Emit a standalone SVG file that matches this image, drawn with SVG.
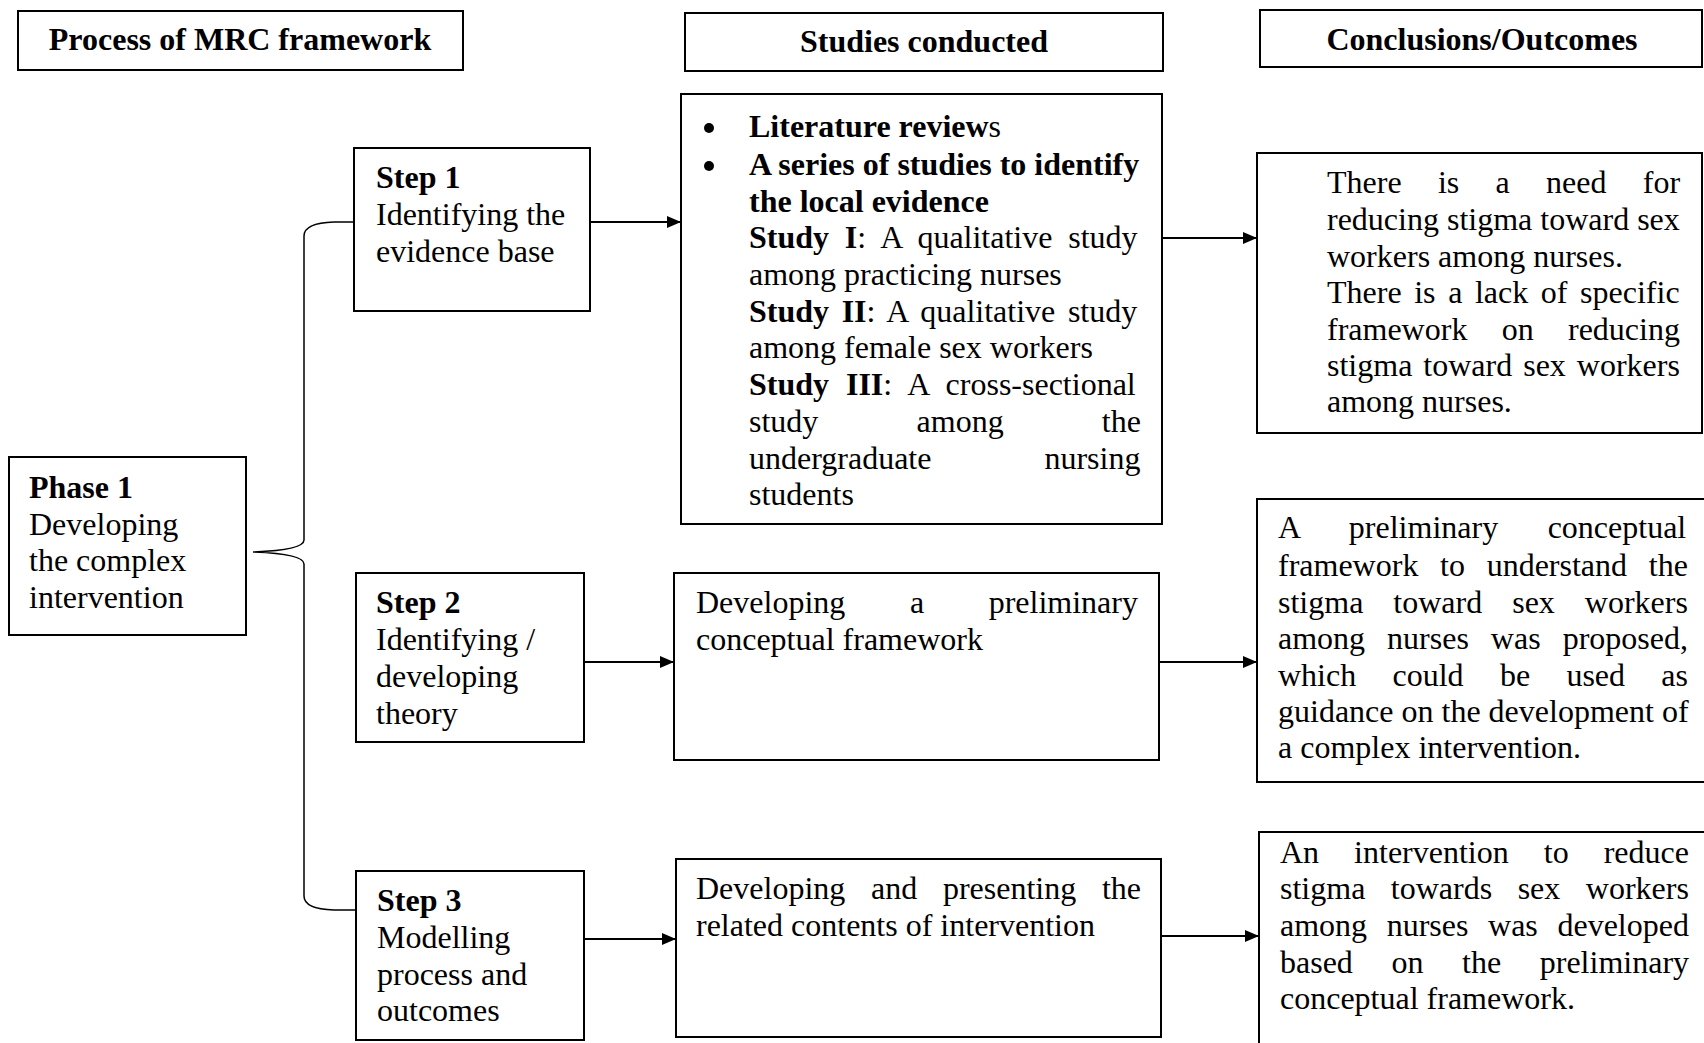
<svg xmlns="http://www.w3.org/2000/svg" width="1704" height="1043" viewBox="0 0 1704 1043">
<style>
text{font-family:"Liberation Serif","Times New Roman",serif;font-size:32px;fill:#000}
.b{font-weight:bold}
.bul{fill:#000}
.box{fill:#fff;stroke:#000;stroke-width:2}
.arr{fill:none;stroke:#000;stroke-width:2.2}
.brace{fill:none;stroke:#000;stroke-width:1.5}
.hd{text-anchor:middle;font-weight:bold}
</style>
<defs>
<marker id="ah" markerWidth="14" markerHeight="12" refX="14" refY="6" orient="auto" markerUnits="userSpaceOnUse">
<path d="M0,0 L14,6 L0,12 z" fill="#000"/>
</marker>
</defs>
<rect x="0" y="0" width="1704" height="1043" fill="#fff"/>

<g id="header-process">
<rect class="box" x="18" y="11" width="445" height="59"/>
<text class="hd" x="240" y="50">Process of MRC framework</text>
</g>
<g id="header-studies">
<rect class="box" x="685" y="13" width="478" height="58"/>
<text class="hd" x="924" y="52">Studies conducted</text>
</g>
<g id="header-outcomes">
<rect class="box" x="1260" y="10" width="442" height="57"/>
<text class="hd" x="1482" y="50">Conclusions/Outcomes</text>
</g>

<g id="connectors">
<path class="brace" d="M355,222 L334,222 Q304,223 304,236 L304,540 Q304,550 253,552 Q304,554 304,564 L304,896 Q304,909 334,910 L356,910"/>
<line class="arr" x1="590" y1="222" x2="681" y2="222" marker-end="url(#ah)"/>
<line class="arr" x1="1162" y1="238" x2="1257" y2="238" marker-end="url(#ah)"/>
<line class="arr" x1="584" y1="662" x2="674" y2="662" marker-end="url(#ah)"/>
<line class="arr" x1="1159" y1="662" x2="1257" y2="662" marker-end="url(#ah)"/>
<line class="arr" x1="584" y1="939" x2="676" y2="939" marker-end="url(#ah)"/>
<line class="arr" x1="1161" y1="936" x2="1259" y2="936" marker-end="url(#ah)"/>
</g>

<g id="phase1">
<rect class="box" x="9" y="457" width="237" height="178"/>
<text x="29" y="498" class="b">Phase 1</text>
<text x="29" y="535">Developing</text>
<text x="29" y="571">the complex</text>
<text x="29" y="608">intervention</text>
</g>

<g id="step1">
<rect class="box" x="354" y="148" width="236" height="163"/>
<text x="376" y="188" class="b">Step 1</text>
<text x="376" y="225">Identifying the</text>
<text x="376" y="262">evidence base</text>
</g>

<g id="step2">
<rect class="box" x="356" y="573" width="228" height="169"/>
<text x="376" y="613" class="b">Step 2</text>
<text x="376" y="650">Identifying /</text>
<text x="376" y="687">developing</text>
<text x="376" y="724">theory</text>
</g>

<g id="step3">
<rect class="box" x="356" y="871" width="228" height="169"/>
<text x="377" y="911" class="b">Step 3</text>
<text x="377" y="948">Modelling</text>
<text x="377" y="985">process and</text>
<text x="377" y="1021">outcomes</text>
</g>

<g id="studies1">
<rect class="box" x="681" y="94" width="481" height="430"/>
<circle class="bul" cx="709" cy="128" r="5"/>
<circle class="bul" cx="709" cy="166" r="5"/>
<text x="749" y="137"><tspan class="b">Literature review</tspan>s</text>
<text x="749" y="175" class="b">A series of studies to identify</text>
<text x="749" y="212" class="b">the local evidence</text>
<text x="749" y="248" word-spacing="7.8"><tspan class="b">Study I</tspan>: A qualitative study</text>
<text x="749" y="285">among practicing nurses</text>
<text x="749" y="322" word-spacing="4.6"><tspan class="b">Study II</tspan>: A qualitative study</text>
<text x="749" y="358">among female sex workers</text>
<text x="749" y="395" word-spacing="8.9"><tspan class="b">Study III</tspan>: A cross-sectional</text>
<text x="749" y="432" word-spacing="90.2">study among the</text>
<text x="749" y="469" word-spacing="105">undergraduate nursing</text>
<text x="749" y="505">students</text>
</g>

<g id="studies2">
<rect class="box" x="674" y="573" width="485" height="187"/>
<text x="696" y="613" word-spacing="56.6">Developing a preliminary</text>
<text x="696" y="650">conceptual framework</text>
</g>

<g id="studies3">
<rect class="box" x="676" y="859" width="485" height="178"/>
<text x="696" y="899" word-spacing="17.7">Developing and presenting the</text>
<text x="696" y="936">related contents of intervention</text>
</g>

<g id="outcome1">
<rect class="box" x="1257" y="153" width="445" height="280"/>
<text x="1327" y="193" word-spacing="28.3">There is a need for</text>
<text x="1327" y="230">reducing stigma toward sex</text>
<text x="1327" y="267">workers among nurses.</text>
<text x="1327" y="303" word-spacing="4.6">There is a lack of specific</text>
<text x="1327" y="340" word-spacing="26.3">framework on reducing</text>
<text x="1327" y="376" word-spacing="3">stigma toward sex workers</text>
<text x="1327" y="412">among nurses.</text>
</g>

<g id="outcome2">
<rect class="box" x="1257" y="499" width="460" height="283"/>
<text x="1278" y="538" word-spacing="41.5">A preliminary conceptual</text>
<text x="1278" y="576" word-spacing="13.7">framework to understand the</text>
<text x="1278" y="613" word-spacing="22">stigma toward sex workers</text>
<text x="1278" y="649" word-spacing="14">among nurses was proposed,</text>
<text x="1278" y="686" word-spacing="28.3">which could be used as</text>
<text x="1278" y="722">guidance on the development of</text>
<text x="1278" y="758">a complex intervention.</text>
</g>

<g id="outcome3">
<rect class="box" x="1259" y="832" width="460" height="230"/>
<text x="1280" y="863" word-spacing="27">An intervention to reduce</text>
<text x="1280" y="899" word-spacing="17.5">stigma towards sex workers</text>
<text x="1280" y="936" word-spacing="11.6">among nurses was developed</text>
<text x="1280" y="973" word-spacing="30.6">based on the preliminary</text>
<text x="1280" y="1009">conceptual framework.</text>
</g>
</svg>
